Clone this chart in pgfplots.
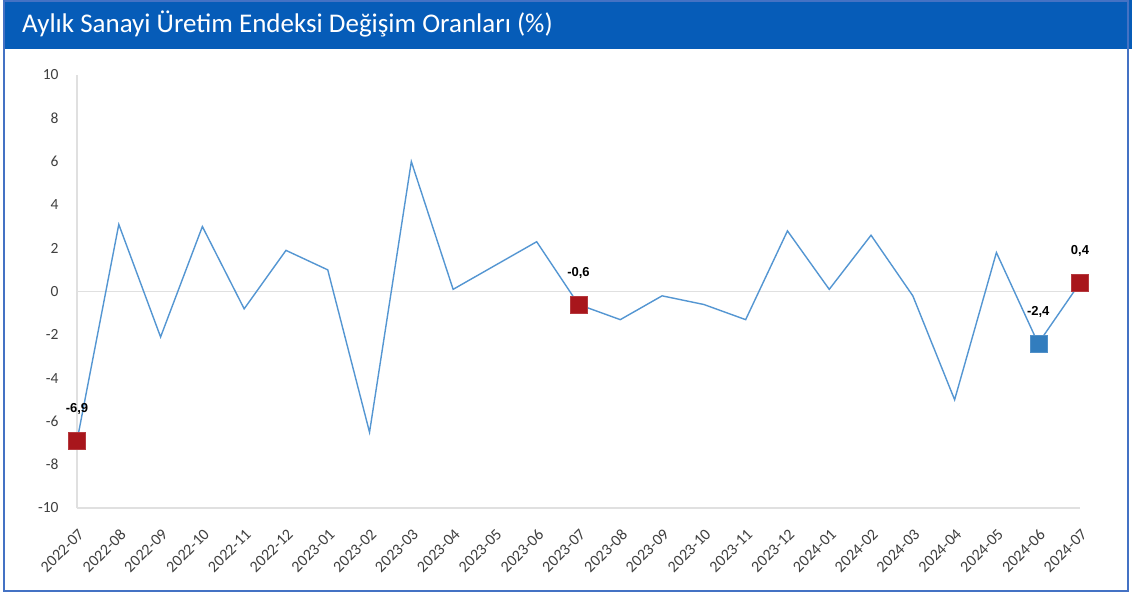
\documentclass[border=0pt]{standalone}
\usepackage{pgfplots}
\pgfplotsset{compat=1.18}
\usepackage{pgfplotstable}
\usepackage{fontspec}
\setmainfont{Carlito}
\newfontfamily\labfont{Liberation Sans}
\definecolor{titleblue}{RGB}{6,92,184}
\definecolor{frameblue}{RGB}{68,114,196}
\definecolor{linecol}{RGB}{84,150,210}
\definecolor{mred}{RGB}{168,22,28}
\definecolor{mblue}{RGB}{50,125,190}
\pgfplotstableread{
x y
0 -6.9
1 3.1
2 -2.1
3 3.0
4 -0.8
5 1.9
6 1.0
7 -6.5
8 6.0
9 0.1
10 1.2
11 2.3
12 -0.6
13 -1.3
14 -0.2
15 -0.6
16 -1.3
17 2.8
18 0.1
19 2.6
20 -0.2
21 -5.0
22 1.8
23 -2.4
24 0.4
}\datatable
\begin{document}
\begin{tikzpicture}
\path[use as bounding box] (0pt,0pt) rectangle (1132pt,-595pt);
\fill[white] (0pt,0pt) rectangle (1132pt,-595pt);
\fill[titleblue] (3pt,0pt) rectangle (1132pt,-49pt);
\draw[frameblue, line width=2pt] (4pt,-1pt) rectangle (1128pt,-591pt);
\node[anchor=base west, text=white, font=\fontsize{27}{31}\selectfont, inner sep=0pt] at (22pt,-32pt) {Aylık Sanayi Üretim Endeksi Değişim Oranları (\%)};
\begin{axis}[
  at={(77pt,-508pt)}, anchor=south west,
  scale only axis, width=1003pt, height=433pt,
  xmin=0, xmax=24, ymin=-10, ymax=10,
  clip=false,
  axis lines=left,
  axis line style={-, draw=black!12, line width=1.3pt},
  major tick length=0pt,
  ytick={-10,-8,...,10},
  xtick={0,...,24},
  xticklabels={2022-07,2022-08,2022-09,2022-10,2022-11,2022-12,2023-01,2023-02,2023-03,2023-04,2023-05,2023-06,2023-07,2023-08,2023-09,2023-10,2023-11,2023-12,2024-01,2024-02,2024-03,2024-04,2024-05,2024-06,2024-07},
  xticklabel style={xshift=5pt, yshift=-23pt, rotate=45, anchor=east, font=\fontsize{16}{18}\selectfont, text=black!75, inner sep=1pt},
  yticklabel style={anchor=east, xshift=-15pt, font=\fontsize{15.5}{17}\selectfont, text=black!75},
  /pgf/number format/assume math mode=true,
]
\draw[black!12, line width=1.3pt] (axis cs:0,0) -- (axis cs:24,0);
\addplot[linecol, line width=1.4pt, mark=none] table[x=x,y=y] {\datatable};
\addplot[only marks, mark=square*, mark size=8.5pt, mark options={fill=mred, draw=mred!85!white},
  nodes near coords, point meta=explicit symbolic,
  every node near coord/.append style={anchor=base, yshift=28pt, text=black, font=\labfont\bfseries\fontsize{13}{15}\selectfont}]
  coordinates {(0,-6.9)[-6,9] (12,-0.6)[-0,6] (24,0.4)[0,4]};
\addplot[only marks, mark=square*, mark size=8.5pt, mark options={fill=mblue, draw=mblue!85!white},
  nodes near coords, point meta=explicit symbolic,
  every node near coord/.append style={anchor=base, yshift=28pt, text=black, font=\labfont\bfseries\fontsize{13}{15}\selectfont}]
  coordinates {(23,-2.4)[-2,4]};
\end{axis}
\end{tikzpicture}
\end{document}
